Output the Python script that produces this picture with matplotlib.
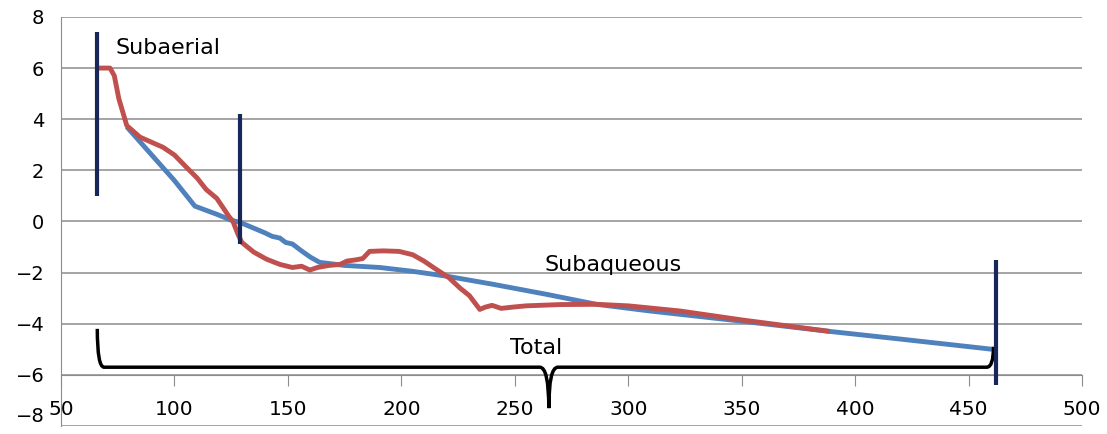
import numpy as np
import matplotlib
matplotlib.use('Agg')
import matplotlib.pyplot as plt
from matplotlib.path import Path
from matplotlib.patches import PathPatch

# blue profile
blue_x = [79, 89, 100, 109, 119, 125, 129, 136, 140, 143, 146.5, 149, 152, 156, 160, 164, 175, 190.5,
          205, 220, 240, 264, 286, 309.5, 322.7, 350, 388.8, 420, 460.6]
blue_y = [3.7, 2.7, 1.6, 0.6, 0.27, 0.05, -0.04, -0.3, -0.45, -0.58, -0.65, -0.82, -0.88, -1.15, -1.4, -1.6, -1.72, -1.8,
          -1.95, -2.14, -2.45, -2.85, -3.24, -3.5, -3.63, -3.9, -4.3, -4.6, -5.0]

# red profile
red_x = [66, 71.6, 73.5, 75.5, 79, 84.8, 95, 100, 105.5, 110, 114, 118.7, 124, 125.8, 128, 129.7, 135, 140.7, 146.5, 152, 156,
         159.7, 163, 168, 173, 176, 180, 183, 186, 192, 199, 205, 210, 215, 221, 225.8, 230, 234.6, 237, 240, 244,
         249, 255, 261, 270, 286, 300, 322.7, 350, 388.8]
red_y = [6.0, 6.0, 5.7, 4.8, 3.75, 3.3, 2.9, 2.6, 2.1, 1.7, 1.25, 0.9, 0.2, 0.0, -0.5, -0.82, -1.2, -1.48, -1.68, -1.8, -1.75,
         -1.9, -1.8, -1.72, -1.68, -1.55, -1.5, -1.45, -1.17, -1.15, -1.17, -1.3, -1.55, -1.85, -2.2, -2.6, -2.9, -3.44, -3.35, -3.28, -3.4,
         -3.35, -3.3, -3.28, -3.25, -3.24, -3.3, -3.5, -3.85, -4.3]

# zone markers
mark_x = [66, 129, 462]
mark_top = [7.4, 4.2, -1.5]
mark_bot = [1.0, -0.9, -6.4]

# bracket "Total"
br_left, br_mid, br_right = 66, 265, 461
br_y, br_left_top, br_right_top, br_tip = -5.7, -4.2, -4.9, -7.3

labels = ['Subaerial', 'Subaqueous', 'Total']
label_x = [74, 263, 248]
label_y = [6.8, -1.7, -4.95]

fig = plt.figure(figsize=(11.07, 4.34), dpi=100)
ax = fig.add_axes([0.0551, 0.0184, 0.9223, 0.9426])

ax.set_xlim(50, 500)
ax.set_ylim(-8, 8)
ax.set_xticks(np.arange(50, 501, 50))
ax.set_yticks(np.arange(-8, 9, 2))
ax.yaxis.grid(True, color='#8c8c8c', lw=1.1)
ax.set_axisbelow(True)
for s in ['top', 'right']:
    ax.spines[s].set_visible(False)
ax.spines['bottom'].set_position(('data', -6))
ax.spines['bottom'].set_color('#8c8c8c')
ax.spines['left'].set_color('#8c8c8c')
ax.tick_params(axis='x', direction='out', length=8, color='#8c8c8c', pad=10, labelsize=14.5)
ax.tick_params(axis='y', length=0, pad=12, labelsize=14)
for lb in ax.get_yticklabels():
    if lb.get_text().startswith('−8'):
        lb.set_verticalalignment('bottom')

ax.plot(blue_x, blue_y, color='#4f81bd', lw=3.5, solid_capstyle='butt', zorder=3)
ax.plot(red_x, red_y, color='#c0504d', lw=3.5, solid_capstyle='butt', zorder=4)

# bracket path with rounded corners
verts = [(br_left, br_left_top), (br_left, br_y), (br_left + 3, br_y),
         (br_mid - 4, br_y), (br_mid, br_y), (br_mid, br_tip),
         (br_mid, br_y), (br_mid + 4, br_y),
         (br_right - 3, br_y), (br_right, br_y), (br_right, br_right_top)]
codes = [Path.MOVETO, Path.CURVE3, Path.CURVE3,
         Path.LINETO, Path.CURVE3, Path.CURVE3,
         Path.CURVE3, Path.CURVE3,
         Path.LINETO, Path.CURVE3, Path.CURVE3]
ax.add_patch(PathPatch(Path(verts, codes), fill=False, color='black', lw=2.5, zorder=5))

ax.vlines(mark_x, mark_bot, mark_top, color='#17275a', lw=3, zorder=6)

for t, x, y in zip(labels, label_x, label_y):
    ax.text(x, y, t, fontsize=16, ha='left', va='center', zorder=7)

fig.savefig('out.png', dpi=100)
